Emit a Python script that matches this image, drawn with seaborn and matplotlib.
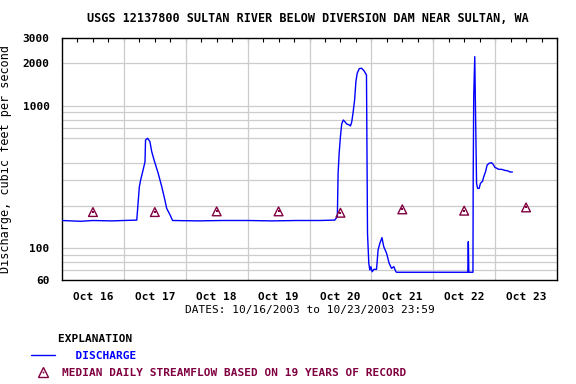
import numpy as np
import pandas as pd
import seaborn as sns
import matplotlib.pyplot as plt
from matplotlib.lines import Line2D

# Discharge record, hours since 2003-10-16 00:00 and cubic feet per second
hours = [0, 7.2, 12, 19.2, 24, 29.0, 30.0, 30.5, 31.3, 32.2,
         32.4, 33.2, 34.1, 34.8, 35.7, 37.3, 38.7, 39.9, 40.6, 41.9,
         42.9, 52.8, 62.4, 72, 81.6, 91.2, 100.0, 105.8, 106.8, 107.1,
         107.5, 108.0, 108.5, 109.1, 109.7, 110.4, 111.4, 111.9, 112.4, 112.9,
         113.5, 114.0, 114.5, 115.3, 116.2, 117.1, 118.1, 118.5, 119.0, 119.4,
         119.8, 120.3, 121.0, 122.0, 122.6, 123.3, 124.1, 124.8, 125.9, 126.9,
         127.8, 128.7, 129.5, 129.8, 157.4, 157.6, 157.8, 159.4, 159.5, 159.7,
         160.1, 160.4, 160.8, 161.2, 161.8, 162.3, 163.1, 163.6, 164.3, 164.9,
         165.7, 166.6, 167.2, 167.9, 168.5, 169.4, 170.5, 171.8, 173.0, 173.7,
         174.7]
cfs = [157, 155, 157, 156, 157, 158, 271, 302, 346, 406,
       577, 593, 562, 478, 418, 337, 271, 219, 191, 172,
       157, 156, 157, 157, 156, 157, 157, 158, 167, 337,
       465, 609, 748, 797, 776, 748, 736, 724, 776, 897,
       1102, 1482, 1697, 1828, 1840, 1770, 1650, 128, 78.6, 70.5,
       74.4, 68.6, 71.3, 71.3, 97.5, 108.6, 119, 102.8, 92.4, 78.6,
       72.5, 74.4, 68.6, 68, 68, 111.5, 68, 68, 328, 1163,
       2220, 900, 286, 264, 264, 286, 296, 319, 346, 385,
       396, 400, 390, 371, 366, 359, 359, 353, 350, 344,
       344]

# Median daily streamflow (19 years of record), plotted at noon of each day
median_days = [0.5, 1.5, 2.5, 3.5, 4.5, 5.5, 6.5, 7.5]
median_cfs = [180, 180, 182, 182, 178, 188, 184, 194]

day_labels = ["Oct 16", "Oct 17", "Oct 18", "Oct 19",
              "Oct 20", "Oct 21", "Oct 22", "Oct 23"]
y_ticks = [60, 100, 1000, 2000, 3000]
y_grid = [70, 80, 90, 100, 200, 300, 400, 600, 700, 800, 900, 1000, 2000]

BLUE = "#0000ff"
MAROON = "#800040"
GRID = "#cccccc"

sns.set_style("white")
plt.rcParams["font.family"] = ["DejaVu Sans Mono"]
plt.rcParams["font.weight"] = "bold"
for key in ["text.color", "axes.labelcolor", "xtick.color", "ytick.color"]:
    plt.rcParams[key] = "black"

fig = plt.figure(figsize=(5.76, 3.84), dpi=100)
ax = fig.add_axes([62 / 576, 1 - 280 / 384, 495 / 576, 242 / 384])

df = pd.DataFrame({"day": np.array(hours) / 24.0, "cfs": cfs})
sns.lineplot(data=df, x="day", y="cfs", color=BLUE, lw=1, ax=ax, zorder=3)

med = sns.scatterplot(x=median_days, y=median_cfs, marker="^", s=40, ax=ax, zorder=4)
coll = med.collections[-1]
coll.set_facecolor("none")
coll.set_edgecolor(MAROON)
coll.set_linewidth(1)
ax.scatter(median_days, median_cfs, marker="s", s=1.5, color=MAROON, zorder=4,
           linewidths=0)

ax.set_yscale("log")
ax.set_ylim(60, 3000)
ax.set_xlim(0, 8)

# grid
for d in range(1, 8):
    ax.axvline(d, color=GRID, lw=0.9, zorder=1)
for g in y_grid:
    ax.axhline(g, color=GRID, lw=0.9, zorder=1)

ax.set_yticks(y_ticks, [str(v) for v in y_ticks])
ax.yaxis.set_minor_locator(plt.NullLocator())
ax.tick_params(axis="y", length=0, pad=9, labelsize=8)

ax.set_xticks(median_days, day_labels)
ax.set_xticks(np.arange(0, 8.01, 0.25), minor=True)
ax.tick_params(axis="x", which="both", direction="in", length=3, top=True,
               pad=9, labelsize=8, width=0.8)

for s in ax.spines.values():
    s.set_color("black")
    s.set_linewidth(1)

ax.set_xlabel("DATES: 10/16/2003 to 10/23/2003 23:59", fontsize=8)
ax.xaxis.set_label_coords(0.5, -0.105)
ax.set_ylabel("Discharge, cubic feet per second", fontsize=8.5)
ax.yaxis.set_label_coords(-0.1, 0.5)

fig.text(0.535, 0.953, "USGS 12137800 SULTAN RIVER BELOW DIVERSION DAM NEAR SULTAN, WA",
         ha="center", va="center", fontsize=8.5)

# explanation block
h_line = Line2D([], [], color=BLUE, lw=1)
h_tri = (Line2D([], [], marker="^", ls="none", mfc="none", mec=MAROON, ms=6.5, mew=1),
         Line2D([], [], marker="s", ls="none", color=MAROON, ms=1.2, mew=0))
leg = fig.legend([h_line, h_tri],
                 ["  DISCHARGE", "MEDIAN DAILY STREAMFLOW BASED ON 19 YEARS OF RECORD"],
                 title="    EXPLANATION", loc="upper left",
                 bbox_to_anchor=(25 / 576, 1 - 328 / 384), frameon=False,
                 fontsize=8, title_fontsize=8, handlelength=2.2, handletextpad=0.6,
                 labelspacing=0.65, borderpad=0)
leg._legend_box.align = "left"
leg.get_texts()[0].set_color(BLUE)
leg.get_texts()[1].set_color(MAROON)

fig.savefig("out.png", dpi=100)
